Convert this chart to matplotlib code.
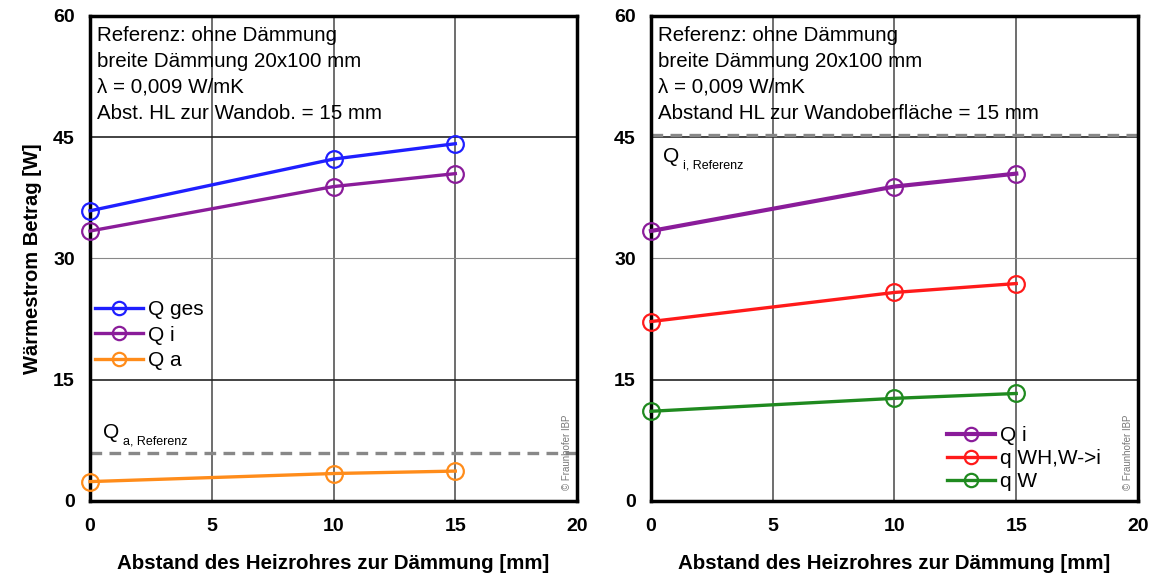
import matplotlib.pyplot as plt

plt.rcParams['font.family'] = ['Liberation Sans', 'DejaVu Sans']

# Abstand des Heizrohres zur Daemmung [mm]
abstand = [0, 10, 15]

# linkes Diagramm
q_ges = [35.9, 42.3, 44.2]
q_i = [33.4, 38.9, 40.5]
q_a = [2.4, 3.4, 3.7]
q_a_ref = 5.9

# rechtes Diagramm
q_wh_w_i = [22.2, 25.8, 26.9]
q_w = [11.1, 12.7, 13.3]
q_i_ref = 45.3

x_ticks = [0, 5, 10, 15, 20]
y_ticks = [0, 15, 30, 45, 60]

info_left = ('Referenz: ohne Dämmung\nbreite Dämmung 20x100 mm\n'
             'λ = 0,009 W/mK\nAbst. HL zur Wandob. = 15 mm')
info_right = ('Referenz: ohne Dämmung\nbreite Dämmung 20x100 mm\n'
              'λ = 0,009 W/mK\nAbstand HL zur Wandoberfläche = 15 mm')

c_blue = '#1f1fff'
c_purple = '#8a1c9a'
c_orange = '#ff8c1a'
c_red = '#ff1a1a'
c_green = '#1f8a1f'

fig = plt.figure(figsize=(11.53, 5.75), dpi=100)
ax1 = fig.add_axes([0.0781, 0.1287, 0.4224, 0.8435])
ax2 = fig.add_axes([0.5646, 0.1287, 0.4224, 0.8435])


def style(ax):
    ax.set_xlim(0, 20)
    ax.set_ylim(0, 60)
    ax.set_xticks(x_ticks)
    ax.set_yticks(y_ticks)
    ax.tick_params(length=0, labelsize=14)
    ax.tick_params(axis='x', pad=12)
    ax.tick_params(axis='y', pad=11)
    for lab in ax.get_xticklabels() + ax.get_yticklabels():
        lab.set_fontweight('bold')
    for s in ax.spines.values():
        s.set_linewidth(2.5)
    for x in [5, 10, 15]:
        ax.axvline(x, color='#555555', lw=1.2, zorder=0)
    for y in [15, 45]:
        ax.axhline(y, color='#222222', lw=1.2, zorder=0)
    ax.axhline(30, color='#888888', lw=0.8, zorder=0)
    ax.set_xlabel('Abstand des Heizrohres zur Dämmung [mm]',
                  fontsize=14.8, fontweight='bold', labelpad=14)
    ax.text(0.99, 0.022, '© Fraunhofer IBP', transform=ax.transAxes,
            rotation=90, fontsize=7, color='#777777', ha='right', va='bottom')


def serie(ax, y, color, label, lw=2.4):
    ax.plot(abstand, y, color=color, lw=lw, marker='o', markersize=12,
            markerfacecolor='none', markeredgewidth=1.6, label=label,
            clip_on=False, zorder=3)


def ref_label(ax, x, y, sub):
    ax.text(x, y, 'Q', fontsize=15, va='baseline')
    ax.annotate(sub, xy=(x, y), xytext=(14.5, -4.5), textcoords='offset points',
                fontsize=9, va='baseline')


style(ax1)
style(ax2)

serie(ax1, q_ges, c_blue, 'Q ges')
serie(ax1, q_i, c_purple, 'Q i')
serie(ax1, q_a, c_orange, 'Q a')
ax1.axhline(q_a_ref, color='#888888', lw=2.4, ls=(0, (3.5, 2.2)), zorder=2)
ref_label(ax1, 0.53, 7.8, 'a, Referenz')
ax1.text(0.29, 58.7, info_left, fontsize=14.8, va='top', linespacing=1.45)
ax1.legend(loc='center left', bbox_to_anchor=(0.01, 0.342), frameon=False,
           fontsize=15, handlelength=2.3, handletextpad=0.25, markerscale=0.8,
           labelspacing=0.3, borderaxespad=0, borderpad=0)
ax1.set_ylabel('Wärmestrom Betrag [W]', fontsize=14.5, fontweight='bold',
               labelpad=8)

serie(ax2, q_i, c_purple, 'Q i', lw=3)
serie(ax2, q_wh_w_i, c_red, 'q WH,W->i')
serie(ax2, q_w, c_green, 'q W')
ax2.axhline(q_i_ref, color='#888888', lw=2.4, ls=(0, (3.5, 2.2)), zorder=2)
ref_label(ax2, 0.49, 41.95, 'i, Referenz')
ax2.text(0.29, 58.7, info_right, fontsize=14.8, va='top', linespacing=1.45)
ax2.legend(loc='lower left', bbox_to_anchor=(0.608, 0.02), frameon=False,
           fontsize=15, handlelength=2.3, handletextpad=0.25, markerscale=0.8,
           labelspacing=0.2, borderaxespad=0, borderpad=0)

fig.savefig('out.png', dpi=100)
